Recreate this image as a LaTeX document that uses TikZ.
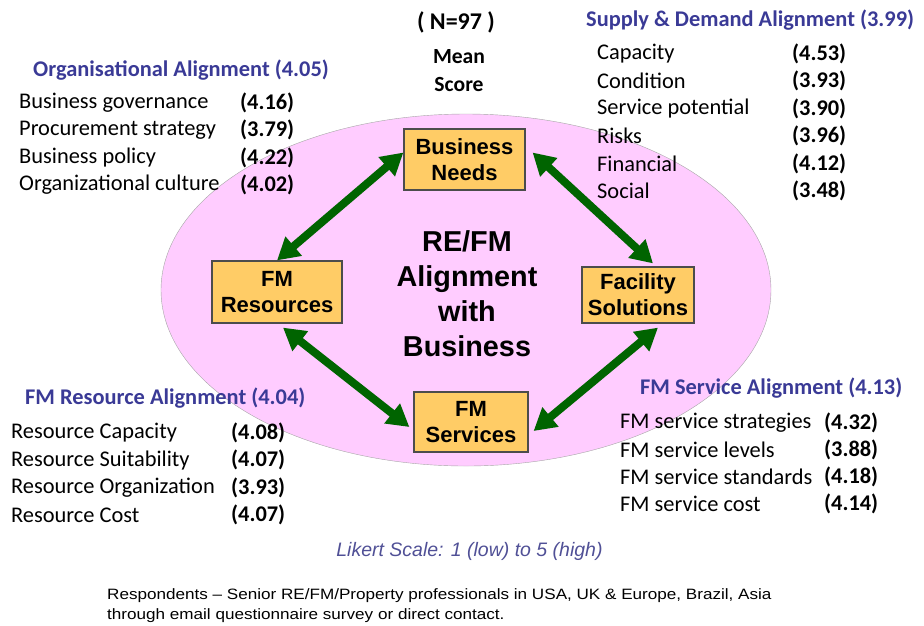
\documentclass[tikz,border=0pt]{standalone}
\usepackage{fontspec}
\setmainfont{Carlito}
\newfontfamily\arialfont{Liberation Sans}
\newfontfamily\widearialfont[FakeStretch=1.14]{Liberation Sans}
\usetikzlibrary{arrows.meta,shapes}
\usepackage{xcolor}
\definecolor{headblue}{RGB}{58,58,150}
\definecolor{likertblue}{RGB}{80,80,150}
\definecolor{ovalpink}{RGB}{255,204,255}
\definecolor{boxorange}{RGB}{255,204,102}
\definecolor{arrowgreen}{RGB}{0,100,0}

\begin{document}
\begin{tikzpicture}[x=1pt,y=-1pt,
		box/.style={draw=black!70,fill=boxorange,line width=1.2pt,inner sep=0,align=center,
			font=\arialfont\bfseries\fontsize{22}{26}\selectfont},
		link/.style={draw=arrowgreen,line width=8pt,
			{Triangle[width=24pt,length=22pt]}-{Triangle[width=24pt,length=22pt]}}]
		\tikzstyle{every node}=[inner sep=0, anchor=west, font=\fontsize{22.4}{27}\selectfont]
		\tikzstyle{head}=[font=\bfseries\fontsize{22.4}{27}\selectfont, text=headblue]
		\tikzstyle{score}=[font=\bfseries\fontsize{22.4}{27}\selectfont]
		\useasboundingbox (0,0) rectangle (924,625);
		% oval and the four boxes
		\node[ellipse, draw=black!35, fill=ovalpink, minimum width=610, minimum height=352, anchor=center] (oval) at (466,290) {};
		\node[box, anchor=center, minimum width=121, minimum height=61] (bn) at (464.5,159.5) {Business\\Needs};
		\node[box, anchor=center, minimum width=130, minimum height=62] (fmr) at (277,292) {FM\\Resources};
		\node[box, anchor=center, minimum width=112, minimum height=56] (fs) at (638,295) {Facility\\Solutions};
		\node[box, anchor=center, minimum width=114, minimum height=60] (fms) at (471,422) {FM\\Services};
		\node[anchor=center, align=center, font=\arialfont\bfseries\fontsize{28.8}{35}\selectfont] (title) at (467,294) {RE/FM\\Alignment\\with\\Business};
		\draw[link] ([yshift=7pt]bn.west) -- (fmr.north);
		\draw[link] ([xshift=7pt,yshift=7pt]bn.east) -- ([xshift=15pt,yshift=3pt]fs.north);
		\draw[link] ([xshift=20pt,yshift=-4pt]fs.south) -- ([xshift=5pt,yshift=-9pt]fms.east);
		\draw[link] ([xshift=6pt,yshift=-4pt]fmr.south) -- ([xshift=-4pt,yshift=-5pt]fms.west);
		% sample size
		\node[anchor=center, font=\bfseries\fontsize{24}{28}\selectfont] (n) at (456,22) {( N=97 )};
		\node[anchor=center, align=center, font=\bfseries\fontsize{21.6}{28}\selectfont] (mean) at (459,71) {Mean\\Score};
		% organisational alignment
		\node[head] (orghead) at (33,70) {Organisational Alignment (4.05)};
		\foreach \txt/\val [count=\i] in {Business governance/(4.16), Procurement strategy/(3.79),
			Business policy/(4.22), Organizational culture/(4.02)}{
			\node (org\i) at (19,103+27.2*\i-27.2) {\txt};
			\node[score] (orgv\i) at (240,103+27.2*\i-27.2) {\val};
		}
		% supply and demand alignment
		\node[head] (sdhead) at (586,20) {Supply \& Demand Alignment (3.99)};
		\foreach \txt/\val [count=\i] in {Capacity/(4.53), Condition/(3.93), Service potential/(3.90),
			Risks/(3.96), Financial/(4.12), Social/(3.48)}{
			\node (sd\i) at (597,53.5+27.5*\i-27.5) {\txt};
			\node[score] (sdv\i) at (792,53.5+27.5*\i-27.5) {\val};
		}
		% FM resource alignment
		\node[head] (reshead) at (25,398) {FM Resource Alignment (4.04)};
		\foreach \txt/\val [count=\i] in {Resource Capacity/(4.08), Resource Suitability/(4.07),
			Resource Organization/(3.93), Resource Cost/(4.07)}{
			\node (res\i) at (11,433+27.3*\i-27.3) {\txt};
			\node[score] (resv\i) at (231,433+27.3*\i-27.3) {\val};
		}
		% FM service alignment
		\node[head] (srvhead) at (640,388) {FM Service Alignment (4.13)};
		\foreach \txt/\val [count=\i] in {FM service strategies/(4.32), FM service levels/(3.88),
			FM service standards/(4.18), FM service cost/(4.14)}{
			\node (srv\i) at (620,423+26.8*\i-26.8) {\txt};
			\node[score] (srvv\i) at (824,423+26.8*\i-26.8) {\val};
		}
		% notes
		\node[anchor=center, text=likertblue, font=\arialfont\itshape\fontsize{19.5}{24}\selectfont] (likert) at (469.5,551) {Likert Scale: 1 (low) to 5 (high)};
		\node[anchor=north west, align=left, font=\widearialfont\fontsize{15}{20}\selectfont] (resp) at (107,588) {Respondents – Senior RE/FM/Property professionals in USA, UK \& Europe, Brazil, Asia\\through email questionnaire survey or direct contact.};
	\end{tikzpicture}
\end{document}
